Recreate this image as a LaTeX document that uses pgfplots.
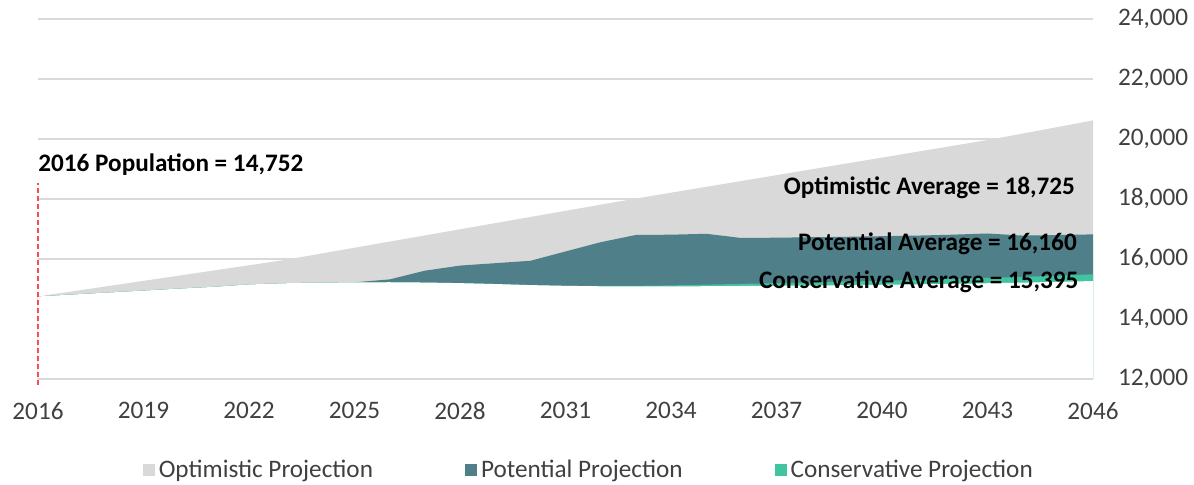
\documentclass[border=0pt]{standalone}
\usepackage{pgfplots}
\pgfplotsset{compat=1.18}
\usepackage{fontspec}
\setmainfont{Carlito}
\definecolor{optc}{HTML}{D9D9D9}
\definecolor{potc}{HTML}{4F7F89}
\definecolor{conc}{HTML}{41C4A0}
\definecolor{gridc}{HTML}{D9D9D9}
\definecolor{labc}{HTML}{404040}
\definecolor{redc}{HTML}{FF4B4B}
\definecolor{mintc}{HTML}{D5F0E8}
\newcommand{\lf}{\fontsize{12.6pt}{15pt}\selectfont}
\begin{document}
\begin{tikzpicture}
\begin{axis}[
  name=ax, at={(0,0)}, anchor=south west,
  scale only axis, width=527.5pt, height=180pt,
  xmin=2016, xmax=2046, ymin=12000, ymax=24000,
  xtick={2016,2019,2022,2025,2028,2031,2034,2037,2040,2043,2046},
  ytick={12000,14000,16000,18000,20000,22000,24000},
  scaled y ticks=false, scaled x ticks=false,
  x tick label style={/pgf/number format/1000 sep={}, yshift=-8pt},
  y tick label style={/pgf/number format/1000 sep={,}, anchor=west, xshift=9pt},
  /pgf/number format/assume math mode=true,
  yticklabel pos=right,
  axis line style={draw=none},
  major tick length=0pt,
  tick label style={font=\lf, text=labc},
  clip=false,
  legend columns=3,
  legend cell align=left,
  legend image code/.code={\fill[#1] (0pt,-3pt) rectangle (6pt,3pt);},
  legend style={at={(axis description cs:0.523,-0.253)}, anchor=center, draw=none, fill=none,
    font=\lf, text=labc, /tikz/every even column/.append style={column sep=44pt}},
  grid line/.style={gridc, line width=0.75pt, forget plot},
]
% horizontal gridlines (beneath the areas)
\addplot[grid line] coordinates {(2016,14000)(2046,14000)};
\addplot[grid line] coordinates {(2016,16000)(2046,16000)};
\addplot[grid line] coordinates {(2016,18000)(2046,18000)};
\addplot[grid line] coordinates {(2016,20000)(2046,20000)};
\addplot[grid line] coordinates {(2016,22000)(2046,22000)};
\addplot[grid line] coordinates {(2016,24000)(2046,24000)};
\addplot[fill=optc, draw=none] coordinates {(2016,12000)(2016,14752)(2017,14925)(2018,15098)(2019,15271)(2020,15444)(2021,15617)(2022,15790)(2023,15965)(2024,16170)(2025,16375)(2026,16580)(2027,16785)(2028,16990)(2029,17195)(2030,17400)(2031,17605)(2032,17810)(2033,18015)(2034,18210)(2035,18405)(2036,18600)(2037,18795)(2038,18990)(2039,19185)(2040,19380)(2041,19575)(2042,19770)(2043,19965)(2044,20180)(2045,20400)(2046,20620)(2046,12000)};
\addlegendentry{Optimistic Projection}
\addplot[fill=potc, draw=none] coordinates {(2016,12000)(2016,14752)(2017,14815)(2018,14880)(2019,14945)(2020,15010)(2021,15070)(2022,15150)(2023,15190)(2024,15210)(2025,15222)(2026,15320)(2027,15610)(2028,15780)(2029,15860)(2030,15940)(2031,16250)(2032,16560)(2033,16800)(2034,16810)(2035,16840)(2036,16700)(2037,16710)(2038,16725)(2039,16740)(2040,16760)(2041,16780)(2042,16810)(2043,16850)(2044,16780)(2045,16800)(2046,16820)(2046,12000)};
\addlegendentry{Potential Projection}
\addplot[fill=conc, draw=none] coordinates {(2016,12000)(2016,14752)(2017,14815)(2018,14880)(2019,14945)(2020,15010)(2021,15070)(2022,15150)(2023,15190)(2024,15210)(2025,15222)(2026,15225)(2027,15215)(2028,15195)(2029,15165)(2030,15130)(2031,15105)(2032,15100)(2033,15105)(2034,15120)(2035,15145)(2036,15170)(2037,15195)(2038,15220)(2039,15245)(2040,15275)(2041,15305)(2042,15335)(2043,15370)(2044,15405)(2045,15445)(2046,15490)(2046,12000)};
\addlegendentry{Conservative Projection}
\addplot[fill=white, draw=none, forget plot] coordinates {(2016,12000)(2016,14752)(2017,14815)(2018,14880)(2019,14945)(2020,15010)(2021,15070)(2022,15150)(2023,15190)(2024,15210)(2025,15222)(2026,15225)(2027,15215)(2028,15195)(2029,15165)(2030,15130)(2031,15105)(2032,15090)(2033,15085)(2034,15088)(2035,15092)(2036,15100)(2037,15108)(2038,15118)(2039,15128)(2040,15142)(2041,15156)(2042,15172)(2043,15192)(2044,15212)(2045,15238)(2046,15265)(2046,12000)};
\addplot[mintc, line width=0.5pt, forget plot] coordinates {(2046,12000)(2046,15265)};
\addplot[grid line] coordinates {(2016,12000)(2046,12000)};
\addplot[redc, line width=0.75pt, dash pattern=on 2.5pt off 1.5pt, forget plot] coordinates {(2016,11800)(2016,18530)};
\node[anchor=west, inner sep=0pt, font=\lf\bfseries] at (axis cs:2016,19133) {2016 Population = 14,752};
\node[anchor=east, inner sep=0pt, font=\lf\bfseries] at (axis cs:2045.5,18367) {Optimistic Average = 18,725};
\node[anchor=east, inner sep=0pt, font=\lf\bfseries] at (axis cs:2045.55,16500) {Potential Average = 16,160};
\node[anchor=east, inner sep=0pt, font=\lf\bfseries] at (axis cs:2045.6,15230) {Conservative Average = 15,395};
\end{axis}
\pgfresetboundingbox
\path[use as bounding box] (-19pt,-53pt) rectangle (578pt,189.5pt);
\end{tikzpicture}
\end{document}
